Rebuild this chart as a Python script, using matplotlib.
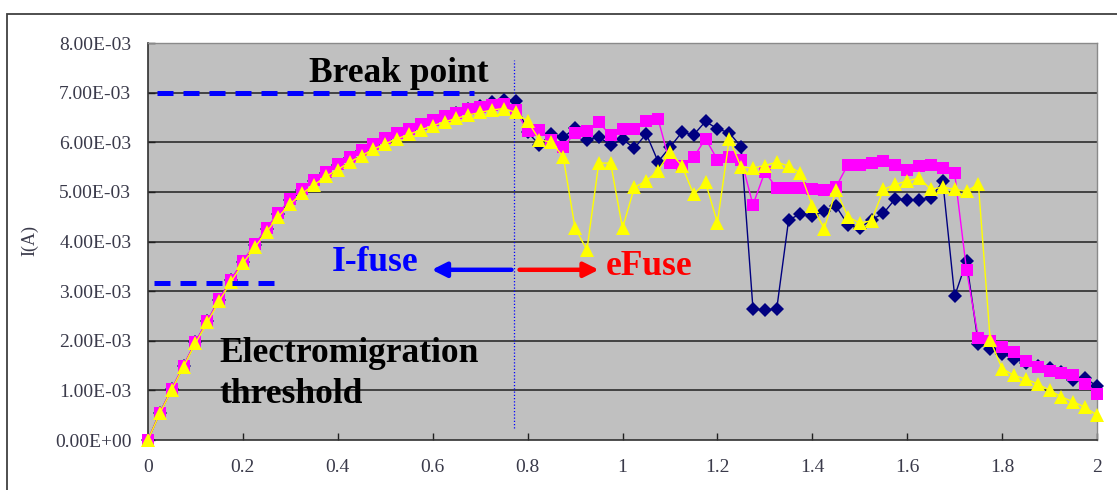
import numpy as np
import matplotlib
matplotlib.use("Agg")
import matplotlib.pyplot as plt
from matplotlib.patches import Rectangle

plt.rcParams['font.family'] = ['Liberation Serif', 'DejaVu Serif']

# sweep positions (81 points, step 0.025)
x_values = np.linspace(0.0, 2.0, 81)

# current in mA
i_navy_ma = [
    0, 0.55, 1.02, 1.49, 1.97, 2.39, 2.83, 3.22, 3.59, 3.92, 4.25, 4.56, 4.83, 5.04, 5.22, 5.39,
    5.54, 5.69, 5.82, 5.95, 6.06, 6.16, 6.25, 6.34, 6.42, 6.50, 6.58, 6.66, 6.74, 6.82, 6.85, 6.83,
    6.20, 5.95, 6.16, 6.10, 6.28, 6.05, 6.10, 5.95, 6.06, 5.88, 6.17, 5.61, 5.90, 6.20, 6.15, 6.42,
    6.27, 6.19, 5.91, 2.64, 2.62, 2.64, 4.43, 4.56, 4.51, 4.61, 4.71, 4.34, 4.27, 4.44, 4.57, 4.86,
    4.84, 4.84, 4.88, 5.21, 2.90, 3.60, 1.93, 1.84, 1.74, 1.64, 1.55, 1.50, 1.46, 1.38, 1.20, 1.25,
    1.08,
]
i_magenta_ma = [
    0, 0.55, 1.03, 1.50, 1.98, 2.40, 2.84, 3.23, 3.61, 3.94, 4.27, 4.58, 4.85, 5.06, 5.24, 5.41,
    5.56, 5.71, 5.84, 5.97, 6.08, 6.18, 6.27, 6.36, 6.44, 6.52, 6.59, 6.66, 6.72, 6.76, 6.78, 6.65,
    6.22, 6.25, 6.05, 5.91, 6.18, 6.22, 6.40, 6.14, 6.26, 6.27, 6.42, 6.47, 5.58, 5.53, 5.70, 6.07,
    5.65, 5.70, 5.65, 4.74, 5.40, 5.08, 5.08, 5.08, 5.06, 5.03, 5.10, 5.55, 5.55, 5.58, 5.62, 5.55,
    5.45, 5.52, 5.55, 5.48, 5.38, 3.43, 2.05, 2.00, 1.87, 1.77, 1.60, 1.47, 1.40, 1.35, 1.30, 1.13,
    0.92,
]
i_yellow_ma = [
    0, 0.54, 1.01, 1.48, 1.95, 2.37, 2.80, 3.19, 3.56, 3.88, 4.20, 4.50, 4.76, 4.97, 5.14, 5.31,
    5.45, 5.60, 5.73, 5.86, 5.97, 6.07, 6.16, 6.25, 6.33, 6.41, 6.48, 6.55, 6.60, 6.65, 6.68, 6.60,
    6.42, 6.05, 6.00, 5.71, 4.27, 3.83, 5.58, 5.58, 4.27, 5.09, 5.22, 5.43, 5.80, 5.53, 4.95, 5.19,
    4.38, 6.07, 5.50, 5.48, 5.53, 5.60, 5.52, 5.38, 4.72, 4.26, 5.03, 4.50, 4.37, 4.42, 5.05, 5.15,
    5.22, 5.28, 5.05, 5.10, 5.05, 5.01, 5.16, 2.01, 1.44, 1.30, 1.23, 1.13, 1.00, 0.87, 0.77, 0.66,
    0.50,
]

y_ticks = [0, 1e-3, 2e-3, 3e-3, 4e-3, 5e-3, 6e-3, 7e-3, 8e-3]
x_ticks = [0, 0.2, 0.4, 0.6, 0.8, 1.0, 1.2, 1.4, 1.6, 1.8, 2.0]

break_level = 7.0e-3
threshold_level = 3.17e-3
boundary_x = 0.7705

fig = plt.figure(figsize=(11.17, 4.90), dpi=100)
ax = fig.add_axes([148 / 1117, 1 - 440 / 490, (1097 - 148) / 1117, (440 - 43) / 490])
ax.set_facecolor('#C0C0C0')

# outer chart frame
fig.patches.append(Rectangle((7 / 1117, -0.1), 2.0, 1.1 - 14 / 490, fill=False,
                             edgecolor='#404040', linewidth=1.3, transform=fig.transFigure))

for level in y_ticks[1:-1]:
    ax.axhline(level, color='#202020', linewidth=1.1, zorder=1)

ma = 1e-3
ax.plot(x_values, np.array(i_navy_ma) * ma, color='#000080', linewidth=1.0, marker='D',
        markersize=7, markeredgewidth=0, clip_on=False, zorder=3)
ax.plot(x_values, np.array(i_magenta_ma) * ma, color='#FF00FF', linewidth=1.0, marker='s',
        markersize=8.5, markeredgewidth=0, clip_on=False, zorder=4)
ax.plot(x_values, np.array(i_yellow_ma) * ma, color='#FFFF00', linewidth=1.0, marker='^',
        markersize=10, markeredgewidth=0, clip_on=False, zorder=5)

# annotations
ax.plot([0.018, 0.688], [break_level, break_level], color='#0000FF', linewidth=3.6,
        dashes=(3.2, 2.0), dash_capstyle='butt', zorder=2)
ax.plot([0.013, 0.272], [threshold_level, threshold_level], color='#0000FF', linewidth=3.6,
        dashes=(3.2, 2.0), dash_capstyle='butt', zorder=6)
ax.plot([boundary_x, boundary_x], [0.24e-3, 7.66e-3], color='#0000FF', linewidth=0.9,
        linestyle=(0, (1, 1.6)), zorder=2)

ax.annotate('', xy=(0.598, 3.43e-3), xytext=(0.766, 3.43e-3),
            arrowprops=dict(arrowstyle='-|>', color='#0000FF', lw=3.2, mutation_scale=22,
                            shrinkA=0, shrinkB=0), zorder=6)
ax.annotate('', xy=(0.950, 3.43e-3), xytext=(0.783, 3.43e-3),
            arrowprops=dict(arrowstyle='-|>', color='#FF0000', lw=3.2, mutation_scale=22,
                            shrinkA=0, shrinkB=0), zorder=6)

text_size = 25.5
ax.text(0.528, 7.22e-3, 'Break point', fontsize=text_size, fontweight='bold', color='black',
        ha='center', va='baseline', zorder=7)
ax.text(0.479, 3.40e-3, 'I-fuse', fontsize=text_size, fontweight='bold', color='#0000FF',
        ha='center', va='baseline', zorder=7)
ax.text(0.965, 3.33e-3, 'eFuse', fontsize=text_size, fontweight='bold', color='#FF0000',
        ha='left', va='baseline', zorder=7)
ax.text(0.150, 1.58e-3, 'Electromigration', fontsize=text_size, fontweight='bold', color='black',
        ha='left', va='baseline', zorder=7)
ax.text(0.150, 0.75e-3, 'threshold', fontsize=text_size, fontweight='bold', color='black',
        ha='left', va='baseline', zorder=7)

ax.set_xlim(0, 2)
ax.set_ylim(0, 8e-3)
ax.set_xticks(x_ticks)
ax.set_yticks(y_ticks)
ax.set_xticklabels(['%g' % v for v in x_ticks])
ax.set_yticklabels(['%.2E' % v for v in y_ticks])
ax.tick_params(axis='both', direction='in', length=5, width=1.0, color='#202020',
               labelsize=14, labelcolor='#3a3a4a')
ax.tick_params(axis='x', pad=14)
ax.tick_params(axis='y', pad=12)

for side in ['left', 'bottom']:
    ax.spines[side].set_color('#303030')
    ax.spines[side].set_linewidth(1.2)
for side in ['top', 'right']:
    ax.spines[side].set_color('#8a8a8a')
    ax.spines[side].set_linewidth(1.0)

fig.text(30 / 1117, 1 - 240 / 490, 'I(A)', rotation=90, fontsize=13, color='#3a3a4a',
         ha='center', va='center')

fig.savefig('out.png', dpi=100)
